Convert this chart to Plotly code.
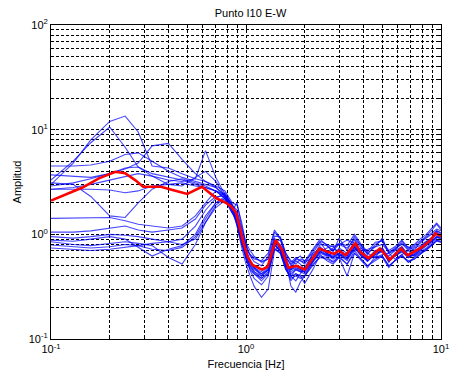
import plotly.graph_objects as go

# Frequency grid shared by the individual spectral ratio curves [Hz]
freq = [0.1, 0.13, 0.16, 0.2, 0.24, 0.28, 0.33, 0.4, 0.47, 0.55, 0.62, 0.7, 0.78, 0.85,
        0.9, 0.95, 1.0, 1.05, 1.1, 1.2, 1.3, 1.4, 1.5, 1.6, 1.7, 1.8, 1.9, 2.0,
        2.2, 2.4, 2.6, 2.8, 3.0, 3.3, 3.6, 3.9, 4.2, 4.6, 5.0, 5.4, 5.8, 6.3,
        6.8, 7.3, 7.8, 8.4, 9.0, 9.5, 10.0]

# Individual windows (amplitude ratios)
w01 = [3.0, 4.8, 8.0, 12.0, 13.5, 9.5, 4.5, 4.3, 3.8, 3.4, 3.2, 2.9, 2.6, 2.0,
       1.9, 1.3, 0.80, 0.62, 0.55, 0.50, 0.62, 1.05, 0.90, 0.62, 0.50, 0.58, 0.62, 0.55,
       0.72, 0.90, 0.78, 0.68, 0.92, 0.70, 0.95, 0.78, 0.64, 0.80, 0.88, 0.66, 0.70, 0.86,
       0.72, 0.78, 0.86, 0.96, 1.10, 1.25, 1.10]
w02 = [3.3, 5.0, 7.5, 10.6, 6.8, 4.4, 3.8, 3.5, 3.3, 3.0, 2.8, 2.6, 2.3, 1.9,
       1.2, 0.80, 0.58, 0.46, 0.42, 0.38, 0.42, 0.72, 0.66, 0.46, 0.40, 0.42, 0.40, 0.40,
       0.50, 0.62, 0.60, 0.55, 0.62, 0.52, 0.66, 0.58, 0.50, 0.56, 0.62, 0.50, 0.56, 0.62,
       0.56, 0.58, 0.64, 0.72, 0.80, 0.88, 0.84]
w03 = [4.5, 4.5, 4.6, 5.0, 5.8, 6.0, 5.0, 4.0, 3.5, 3.2, 3.0, 2.8, 2.4, 1.9,
       1.7, 1.15, 0.78, 0.64, 0.58, 0.56, 0.66, 1.10, 0.92, 0.66, 0.54, 0.60, 0.56, 0.52,
       0.70, 0.86, 0.80, 0.76, 0.82, 0.78, 1.00, 0.80, 0.68, 0.84, 0.86, 0.70, 0.76, 0.88,
       0.74, 0.80, 0.90, 1.00, 1.15, 1.28, 1.15]
w04 = [2.9, 3.1, 3.4, 3.8, 4.2, 4.8, 7.0, 7.4, 5.2, 3.8, 3.2, 2.8, 2.3, 1.8,
       1.5, 0.95, 0.66, 0.55, 0.48, 0.42, 0.48, 0.85, 0.88, 0.62, 0.40, 0.36, 0.42, 0.48,
       0.64, 0.68, 0.74, 0.78, 0.62, 0.66, 0.70, 0.74, 0.66, 0.60, 0.64, 0.66, 0.58, 0.64,
       0.70, 0.62, 0.68, 0.74, 0.84, 0.92, 0.98]
w05 = [2.7, 2.8, 3.0, 3.3, 3.6, 3.8, 3.6, 3.3, 3.2, 3.4, 6.3, 3.5, 2.4, 1.9,
       1.4, 0.90, 0.60, 0.45, 0.38, 0.33, 0.40, 0.78, 0.70, 0.48, 0.36, 0.42, 0.40, 0.34,
       0.46, 0.64, 0.56, 0.52, 0.60, 0.40, 0.66, 0.56, 0.48, 0.62, 0.60, 0.48, 0.56, 0.64,
       0.54, 0.60, 0.66, 0.70, 0.78, 0.86, 0.84]
w06 = [3.1, 3.0, 2.3, 1.5, 1.45, 2.0, 2.7, 3.2, 3.4, 3.1, 2.9, 2.6, 2.2, 1.7,
       1.2, 0.75, 0.52, 0.40, 0.32, 0.25, 0.30, 0.70, 0.78, 0.55, 0.32, 0.28, 0.35, 0.40,
       0.55, 0.68, 0.62, 0.58, 0.64, 0.56, 0.74, 0.62, 0.55, 0.66, 0.70, 0.55, 0.62, 0.72,
       0.60, 0.66, 0.74, 0.84, 0.92, 1.05, 0.98]
w07 = [3.7, 3.6, 3.5, 3.8, 4.3, 4.4, 3.6, 3.0, 2.9, 3.5, 4.0, 3.2, 2.3, 1.7,
       2.0, 1.2, 0.82, 0.70, 0.62, 0.54, 0.58, 0.96, 0.95, 0.66, 0.56, 0.52, 0.58, 0.56,
       0.66, 0.84, 0.68, 0.74, 0.80, 0.88, 0.82, 0.70, 0.72, 0.76, 0.92, 0.66, 0.74, 0.80,
       0.76, 0.70, 0.84, 0.94, 1.05, 1.12, 1.08]
w08 = [2.7, 2.7, 2.7, 2.65, 2.5, 2.6, 2.9, 3.0, 3.1, 2.9, 2.8, 2.6, 2.2, 1.8,
       1.55, 1.0, 0.68, 0.55, 0.50, 0.46, 0.50, 0.85, 0.74, 0.52, 0.46, 0.50, 0.46, 0.44,
       0.60, 0.74, 0.66, 0.62, 0.72, 0.62, 0.80, 0.66, 0.56, 0.68, 0.74, 0.56, 0.64, 0.74,
       0.62, 0.68, 0.76, 0.84, 0.90, 1.00, 0.96]
w09 = [1.42, 1.44, 1.45, 1.45, 1.35, 1.25, 1.2, 1.15, 1.2, 1.5, 2.0, 2.6, 2.4, 1.8,
       1.4, 0.95, 0.72, 0.64, 0.60, 0.55, 0.58, 0.88, 0.80, 0.60, 0.52, 0.58, 0.56, 0.54,
       0.60, 0.80, 0.78, 0.70, 0.80, 0.74, 0.90, 0.78, 0.66, 0.76, 0.80, 0.68, 0.72, 0.82,
       0.70, 0.76, 0.82, 0.92, 1.00, 1.08, 1.04]
w10 = [1.05, 1.05, 1.08, 1.15, 1.2, 1.1, 1.05, 1.1, 1.15, 1.4, 1.9, 2.3, 2.3, 1.7,
       1.3, 0.88, 0.64, 0.52, 0.46, 0.42, 0.46, 0.82, 0.70, 0.50, 0.44, 0.47, 0.45, 0.44,
       0.56, 0.70, 0.64, 0.60, 0.66, 0.60, 0.76, 0.64, 0.56, 0.64, 0.70, 0.56, 0.62, 0.70,
       0.60, 0.64, 0.72, 0.80, 0.86, 0.96, 0.92]
w11 = [0.95, 0.92, 0.95, 1.0, 0.98, 0.95, 0.9, 0.85, 0.9, 1.2, 1.7, 2.2, 2.5, 1.9,
       1.6, 1.05, 0.72, 0.56, 0.48, 0.40, 0.46, 0.92, 0.72, 0.50, 0.46, 0.56, 0.52, 0.46,
       0.66, 0.72, 0.66, 0.72, 0.70, 0.62, 0.88, 0.74, 0.58, 0.70, 0.68, 0.62, 0.70, 0.76,
       0.64, 0.74, 0.78, 0.86, 0.94, 1.08, 1.02]
w12 = [0.88, 0.86, 0.9, 0.95, 0.9, 0.75, 0.62, 0.72, 0.78, 1.0, 1.5, 2.0, 2.2, 1.6,
       1.35, 0.90, 0.62, 0.50, 0.44, 0.38, 0.44, 0.80, 0.68, 0.48, 0.40, 0.46, 0.44, 0.42,
       0.54, 0.66, 0.62, 0.66, 0.64, 0.58, 0.72, 0.68, 0.62, 0.60, 0.74, 0.60, 0.62, 0.68,
       0.64, 0.62, 0.70, 0.78, 0.86, 0.94, 0.92]
w13 = [0.85, 0.80, 0.78, 0.82, 0.85, 0.82, 0.78, 0.6, 0.52, 0.8, 1.3, 1.8, 2.1, 1.6,
       1.45, 0.98, 0.66, 0.54, 0.48, 0.44, 0.50, 0.86, 0.76, 0.56, 0.46, 0.48, 0.46, 0.46,
       0.58, 0.76, 0.66, 0.60, 0.74, 0.66, 0.78, 0.62, 0.58, 0.70, 0.72, 0.54, 0.66, 0.76,
       0.62, 0.68, 0.72, 0.82, 0.92, 1.02, 0.96]
w14 = [0.79, 0.76, 0.74, 0.76, 0.8, 0.78, 0.72, 0.7, 0.75, 0.95, 1.4, 2.0, 2.3, 1.7,
       1.25, 0.82, 0.58, 0.48, 0.42, 0.36, 0.42, 0.74, 0.66, 0.46, 0.38, 0.40, 0.38, 0.40,
       0.52, 0.60, 0.58, 0.54, 0.60, 0.52, 0.70, 0.58, 0.50, 0.58, 0.62, 0.50, 0.56, 0.62,
       0.54, 0.58, 0.64, 0.72, 0.80, 0.88, 0.86]
w15 = [0.74, 0.72, 0.70, 0.72, 0.75, 0.78, 0.82, 0.85, 0.8, 0.9, 1.3, 1.9, 2.2, 1.6,
       1.3, 0.86, 0.62, 0.50, 0.44, 0.40, 0.46, 0.80, 0.70, 0.50, 0.42, 0.46, 0.44, 0.44,
       0.56, 0.68, 0.64, 0.60, 0.66, 0.58, 0.76, 0.64, 0.56, 0.64, 0.68, 0.56, 0.62, 0.68,
       0.60, 0.64, 0.70, 0.78, 0.86, 0.94, 0.90]
windows = [w01, w02, w03, w04, w05, w06, w07, w08, w09, w10, w11, w12, w13, w14, w15]

# Average H/V curve
mean_freq = [0.1, 0.145, 0.176, 0.214, 0.24, 0.27, 0.297, 0.366, 0.42, 0.5, 0.594,
             0.706, 0.793, 0.84, 0.891, 0.962, 1.02, 1.08, 1.21, 1.29, 1.42, 1.53,
             1.65, 1.82, 2.0, 2.16, 2.38, 2.62, 2.83, 3.0, 3.24, 3.64, 3.85, 4.24,
             4.86, 5.46, 6.24, 6.74, 7.29, 8.03, 8.84, 9.36, 10.0]
mean_amp = [2.1, 2.8, 3.43, 3.96, 3.83, 3.3, 2.85, 2.85, 2.65, 2.43, 2.85,
            2.21, 1.99, 1.84, 1.6, 0.88, 0.61, 0.51, 0.46, 0.49, 0.88, 0.71,
            0.48, 0.50, 0.46, 0.57, 0.73, 0.68, 0.65, 0.70, 0.63, 0.82, 0.68, 0.59,
            0.73, 0.57, 0.73, 0.63, 0.68, 0.76, 0.88, 1.02, 0.96]

major_vals = [0.1, 1, 10]
major_x_text = ["10<sup>-1</sup>", "10<sup>0</sup>", "10<sup>1</sup>"]
major_y_vals = [0.1, 1, 10, 100]
major_y_text = ["10<sup>-1</sup>", "10<sup>0</sup>", "10<sup>1</sup>", "10<sup>2</sup>"]
minor_x = [m * d for d in (0.1, 1) for m in range(2, 10)]
minor_y = [m * d for d in (0.1, 1, 10) for m in range(2, 10)]

fig = go.Figure()
for w in windows:
    fig.add_trace(go.Scatter(x=freq, y=w, mode="lines",
                             line=dict(color="rgba(0,0,255,0.72)", width=1.1),
                             showlegend=False, hoverinfo="skip"))
fig.add_trace(go.Scatter(x=mean_freq, y=mean_amp, mode="lines",
                         line=dict(color="#ff0000", width=2.6),
                         showlegend=False))

grid = dict(showgrid=True, gridcolor="black", gridwidth=1, griddash="3px,2px")
axis_common = dict(type="log", showline=True, linecolor="black", linewidth=1,
                   mirror="ticks", ticks="inside", ticklen=4, tickcolor="black",
                   zeroline=False, tickfont=dict(family="Liberation Sans, Arial", size=11, color="black"),
                   **grid)

fig.update_xaxes(range=[-1, 1], tickmode="array", tickvals=major_vals, ticktext=major_x_text,
                 minor=dict(tickmode="array", tickvals=minor_x, ticks="inside", ticklen=2,
                            tickcolor="black", **grid),
                 title=dict(text="Frecuencia [Hz]", standoff=6,
                            font=dict(family="Liberation Sans, Arial", size=11, color="black")),
                 **axis_common)
fig.update_yaxes(range=[-1, 2], tickmode="array", tickvals=major_y_vals, ticktext=major_y_text,
                 minor=dict(tickmode="array", tickvals=minor_y, ticks="inside", ticklen=2,
                            tickcolor="black", **grid),
                 title=dict(text="Amplitud", standoff=4,
                            font=dict(family="Liberation Sans, Arial", size=11, color="black")),
                 **axis_common)

fig.update_layout(
    width=458, height=385,
    margin=dict(l=51, r=9, t=25, b=46),
    paper_bgcolor="white", plot_bgcolor="white",
    title=dict(text="Punto I10 E-W", x=0.547, xanchor="center", y=0.975, yanchor="top",
               font=dict(family="Liberation Sans, Arial", size=11, color="black")),
)

fig.write_html("out.html")
